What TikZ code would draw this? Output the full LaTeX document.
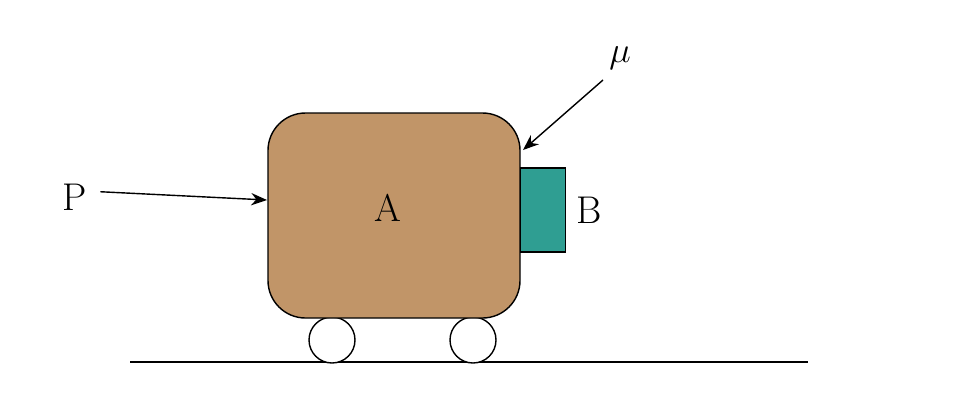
\documentclass[tikz,border=0pt]{standalone}
\usepackage{tikz}
\usetikzlibrary{arrows.meta,positioning}
\begin{document}
\begin{tikzpicture}[x=0.02cm, y=-0.02cm, every node/.style={font=\fontsize{22}{26}\selectfont},
  wheel/.style={draw, thick, fill=white, circle, minimum size=0.92cm, inner sep=0pt},
  force/.style={-{Stealth[length=9pt,width=7pt]}, thick}]
        \definecolor{cartbrown}{RGB}{193,149,104}
        \definecolor{blockteal}{RGB}{47,158,146}
        \useasboundingbox (0,0) rectangle (955,414);

        % Ground and wheels
        \draw[thick] (130,362) -- (808,362);
        \node[wheel] (w1) at (332,340) {};
        \node[wheel] (w2) at (473,340) {};

        % Cart and block
        \draw[thick, fill=cartbrown, rounded corners=0.75cm] (268,113) rectangle (520,318);
        \node[draw, thick, fill=blockteal, minimum width=0.9cm, minimum height=1.68cm, anchor=west, inner sep=0pt] (blockB) at (520,210) {};
        \node (A) at (388,208) {A};
        \node[right=2pt of blockB] (B) {B};
        \coordinate (cartleft) at (267,200);
        \coordinate (corner) at (523,150);

        % Forces
        \node (P) at (75,197) {P};
        \draw[force] (P.east) ++(4pt,3pt) coordinate (pstart) (pstart) -- (cartleft);
        \node (mu) at (620,58) {$\mu$};
        \coordinate (mustart) at (603,80);
        \draw[force] (mustart) -- (corner);
    \end{tikzpicture}
\end{document}
